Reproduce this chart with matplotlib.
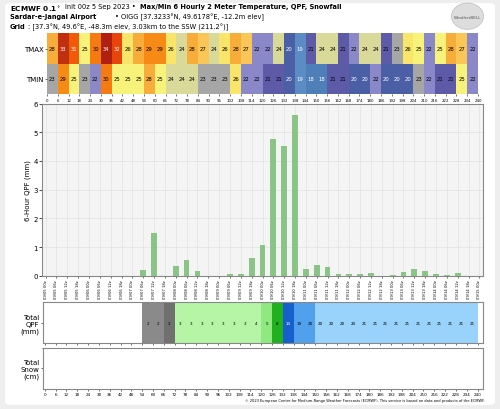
import numpy as np
import matplotlib.pyplot as plt
from matplotlib.colors import ListedColormap, BoundaryNorm
from matplotlib.patches import FancyBboxPatch, Circle

# data
hours = np.arange(0, 246, 6)
tmax = [28, 33, 31, 25, 30, 34, 32, 26, 28, 29, 29, 26, 24, 28, 27, 24, 26, 28, 27, 22,
        22, 24, 20, 19, 21, 24, 24, 21, 22, 24, 24, 21, 23, 26, 25, 22, 25, 28, 27, 22]
tmin = [23, 29, 25, 23, 22, 30, 25, 25, 25, 28, 25, 24, 24, 24, 23, 23, 23, 26, 22, 22,
        21, 21, 20, 19, 18, 18, 21, 21, 20, 20, 22, 20, 20, 20, 23, 22, 21, 21, 25, 22]
qpf6 = [0, 0, 0, 0, 0, 0, 0, 0, 0, 0.2, 1.5, 0, 0.35, 0.55, 0.18, 0, 0, 0.05, 0.05, 0.62,
        1.06, 4.78, 4.52, 5.6, 0.25, 0.38, 0.32, 0.07, 0.05, 0.07, 0.08, 0, 0.01, 0.12,
        0.22, 0.16, 0.05, 0.04, 0.08, 0, 0]
qpf_total = [0, 0, 0, 0, 0, 0, 0, 0, 0, 2.0, 2.1, 2.4, 3.0, 3.1, 3.2, 3.2, 3.2, 3.3, 3.3,
             4.0, 5.1, 7.9, 14.0, 19.3, 19.6, 20.1, 20.3, 20.4, 20.5, 20.6, 20.6, 20.6,
             20.6, 20.7, 20.9, 21.0, 21.1, 21.1, 21.2, 21.2]
day_names = ['Tue', 'Wed', 'Thu', 'Fri', 'Sat', 'Sun', 'Mon', 'Tue', 'Wed', 'Thu', 'Fri']
date_labels = ['09/%02d %02dz' % (5 + h // 24, h % 24) for h in hours]

# temperature colours per degree 17..35
tcols = ['#4f7fb8', '#5b8cc4', '#4a5fa6', '#5d5aa8', '#8a88c8', '#a6a6a6', '#d9d99a',
         '#f7f27a', '#f8e56a', '#f9c657', '#f8ad3a', '#f78a14', '#f77a10', '#f25a0a',
         '#e8450a', '#c03010', '#b02010', '#7a0808', '#600000']
tcmap = ListedColormap(tcols)
tnorm = BoundaryNorm(np.arange(17.5, 36.5, 1), len(tcols))

fig = plt.figure(figsize=(5, 4.1), dpi=100, facecolor='#eeeeee')
fig.patches.append(FancyBboxPatch((0.01, 0.01), 0.98, 0.98, boxstyle='round,pad=0,rounding_size=0.01',
                                  transform=fig.transFigure, facecolor='white', edgecolor='none', zorder=-10))

fs = 4.8
fig.text(0.02, 0.99, r"ECMWF 0.1$^\circ$", fontsize=fs + 0.4, fontweight='bold', va='top')
fig.text(0.13, 0.99, "Init 00z 5 Sep 2023 \u2022", fontsize=fs, va='top')
fig.text(0.28, 0.99, "Max/Min 6 Hourly 2 Meter Temperature, QPF, Snowfall", fontsize=fs, fontweight='bold', va='top')
fig.text(0.02, 0.966, "Sardar-e-Jangal Airport", fontsize=fs, fontweight='bold', va='top')
fig.text(0.23, 0.966, "\u2022 OIGG [37.3233\u00b0N, 49.6178\u00b0E, -12.2m elev]", fontsize=fs, va='top')
fig.text(0.02, 0.942, "Grid", fontsize=fs, fontweight='bold', va='top')
fig.text(0.057, 0.942, ": [37.3\u00b0N, 49.6\u00b0E, -48.3m elev, 3.03km to the SSW (211.2\u00b0)]", fontsize=fs, va='top')
fig.patches.append(Circle((0.935, 0.958), 0.032, transform=fig.transFigure, facecolor='#dddddd', edgecolor='#bbbbbb', lw=0.5))
fig.text(0.935, 0.956, "WeatherBELL", fontsize=3, ha='center', va='center', color='#555555')

# heatmap
ax0 = fig.add_axes([0.094, 0.768, 0.862, 0.148])
grid = np.array([tmax, tmin])
ax0.pcolormesh(hours, [0, 1, 2], grid, cmap=tcmap, norm=tnorm)
for i in range(len(tmax)):
    for j, row in enumerate([tmax, tmin]):
        v = row[i]
        ax0.text(hours[i] + 3, j + 0.5, str(v), ha='center', va='center', fontsize=3.8,
                 color='white' if (v >= 31 or v <= 20) else 'black')
ax0.set_xlim(0, 240)
ax0.set_ylim(2, 0)
ax0.set_yticks([0.5, 1.5])
ax0.set_yticklabels(['TMAX', 'TMIN'], fontsize=5)
ax0.set_xticks(hours)
ax0.set_xticklabels([str(h) for h in hours], fontsize=2.8)
ax0.tick_params(length=1.5, width=0.4, pad=1)
for s in ax0.spines.values():
    s.set_visible(False)

# 6-hour QPF
ax1 = fig.add_axes([0.084, 0.325, 0.882, 0.42], facecolor='#f4f4f4')
ax1.bar(hours, qpf6, width=3.2, color='#7fbf7b', alpha=0.9, zorder=3)
ax1.set_xlim(-2, 242)
ax1.set_ylim(0, 6)
ax1.set_xticks(hours)
ax1.set_xticklabels(date_labels, rotation=90, fontsize=2.7)
ax1.tick_params(axis='x', length=1.5, width=0.4, pad=1)
ax1.tick_params(axis='y', labelsize=5, length=2, width=0.5, pad=1)
ax1.grid(True, color='#dddddd', lw=0.4, zorder=0)
ax1.set_ylabel("6-Hour QPF (mm)", fontsize=5, labelpad=2)
for s in ax1.spines.values():
    s.set_color('#888888'); s.set_linewidth(0.8)

# total QPF
def qcol(v):
    if v < 1: return 'white'
    if v < 2.3: return '#8a8a8a'
    if v < 3: return '#707070'
    if v < 4.5: return '#b5f5a5'
    if v < 6: return '#90e880'
    if v < 10: return '#20b020'
    if v < 15: return '#1560cc'
    if v < 20: return '#50a0ee'
    return '#99d3fb'

ax2 = fig.add_axes([0.086, 0.16, 0.88, 0.1])
for i, v in enumerate(qpf_total):
    ax2.bar(hours[i], 1, width=6, align='edge', color=qcol(v), edgecolor='none')
    if v >= 1:
        ax2.text(hours[i] + 3, 0.5, str(int(round(v))), ha='center', va='center', fontsize=3,
                 color='white' if 10 < v < 15 else 'black')
ax2.set_xlim(-1, 243)
ax2.set_ylim(0, 1)
ax2.set_yticks([0.5])
ax2.set_yticklabels(['Total\nQPF\n(mm)'], fontsize=5)
ax2.set_xticks(hours)
ax2.set_xticklabels([day_names[h // 24] for h in hours], fontsize=3)
ax2.tick_params(length=1.5, width=0.4, pad=1)
for s in ax2.spines.values():
    s.set_color('#888888'); s.set_linewidth(0.8)

# total snow
ax3 = fig.add_axes([0.086, 0.05, 0.88, 0.1])
ax3.set_xlim(-1, 243)
ax3.set_ylim(0, 1)
ax3.set_yticks([0.5])
ax3.set_yticklabels(['Total\nSnow\n(cm)'], fontsize=5)
ax3.set_xticks(hours)
ax3.set_xticklabels([str(h) for h in hours], fontsize=3)
ax3.tick_params(length=1.5, width=0.4, pad=1)
for s in ax3.spines.values():
    s.set_color('#888888'); s.set_linewidth(0.8)

fig.text(0.97, 0.02, "\u00a9 2023 European Centre for Medium-Range Weather Forecasts (ECMWF). This service is based on data and products of the ECMWF.",
         fontsize=2.6, ha='right')

fig.savefig('out.png', dpi=100, facecolor=fig.get_facecolor())
